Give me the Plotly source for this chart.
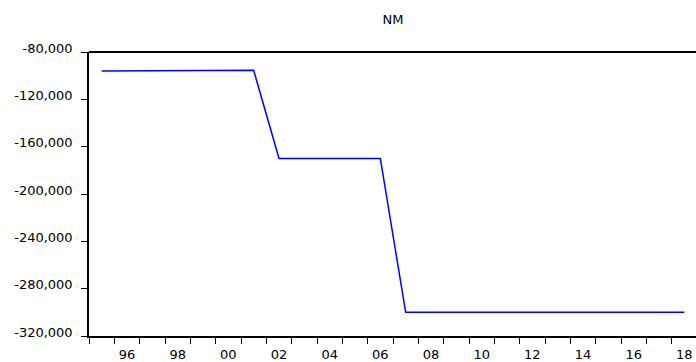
import plotly.graph_objects as go

years = list(range(1995, 2019))
nm = [-96000, -96000, -95500, -95500, -95500, -95500, -95500,
      -170000, -170000, -170000, -170000, -170000,
      -300000, -300000, -300000, -300000, -300000, -300000,
      -300000, -300000, -300000, -300000, -300000, -300000]
y_ticks = [-320000, -280000, -240000, -200000, -160000, -120000, -80000]
y_tick_text = ["-320,000", "-280,000", "-240,000", "-200,000", "-160,000", "-120,000", "-80,000"]
x_label_years = list(range(1996, 2019, 2))
x_label_text = ["96", "98", "00", "02", "04", "06", "08", "10", "12", "14", "16", "18"]
x_boundaries = [y - 0.5 for y in range(1995, 2020)]

XR = [1994.5, 2018.46]

fig = go.Figure()
fig.add_trace(go.Scatter(x=years, y=nm, mode="lines",
                         line=dict(color="#0000FF", width=1.5),
                         showlegend=False, hoverinfo="skip"))
fig.add_trace(go.Scatter(x=years, y=nm, mode="lines", xaxis="x2",
                         line=dict(color="rgba(0,0,0,0)", width=0),
                         showlegend=False, hoverinfo="skip"))

FAM = "DejaVu Sans, Verdana, sans-serif"
font = dict(family=FAM, size=13, color="black")
fig.update_layout(
    width=696, height=362,
    margin=dict(l=89, r=0, t=52, b=21),
    paper_bgcolor="white", plot_bgcolor="white",
    font=font,
    title=dict(text="NM", x=393 / 696, xanchor="center", y=1 - 19 / 362, yanchor="middle",
               font=dict(family=FAM, size=13, color="black")),
    xaxis=dict(range=XR, tickvals=x_boundaries,
               ticktext=[""] * len(x_boundaries),
               ticks="outside", ticklen=6, tickcolor="black", tickwidth=1,
               showgrid=False, zeroline=False, showline=True,
               linecolor="black", linewidth=1.5, mirror=False),
    xaxis2=dict(range=XR, overlaying="x", side="bottom",
                tickvals=x_label_years, ticktext=x_label_text,
                ticks="", ticklabelstandoff=9, showgrid=False, zeroline=False, showline=False,
                tickfont=font),
    yaxis=dict(range=[-320000, -80000], tickvals=y_ticks, ticktext=y_tick_text,
               ticks="outside", ticklen=6, tickcolor="black", tickwidth=1,
               ticklabelstandoff=6, ticklabelshift=-4,
               showgrid=False, zeroline=False, showline=True,
               linecolor="black", linewidth=1.5, mirror=False,
               tickfont=font),
    shapes=[dict(type="line", xref="paper", yref="paper", x0=0, x1=1, y0=1, y1=1,
                 line=dict(color="black", width=2))],
)
fig.write_html("out.html")
